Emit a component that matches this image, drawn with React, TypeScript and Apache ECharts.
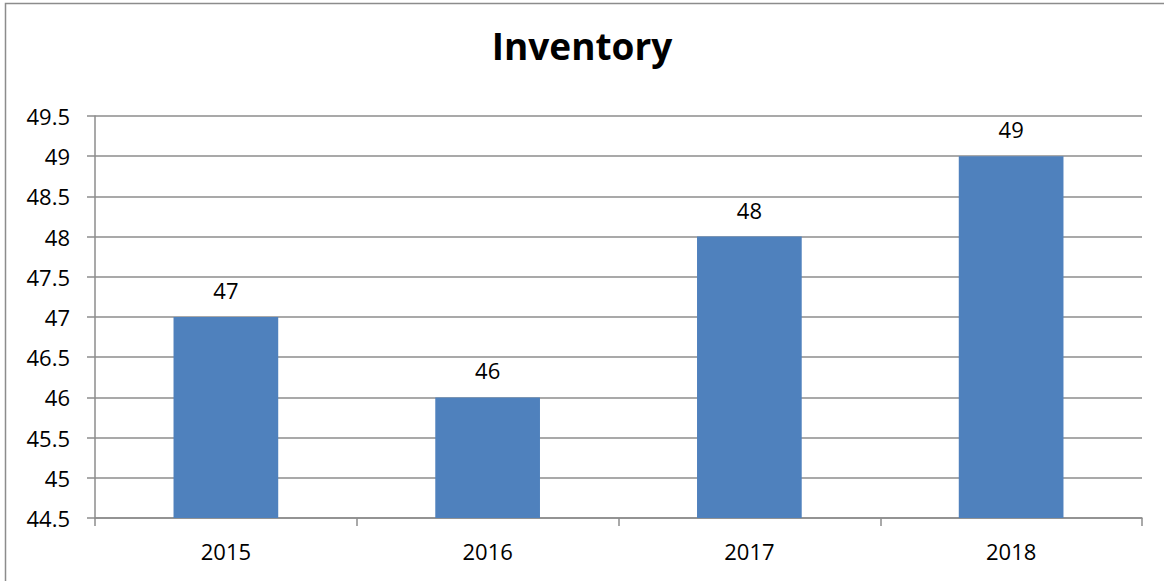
import React, { useEffect, useRef } from "react";
import * as echarts from "echarts";

const categories = ["2015", "2016", "2017", "2018"];
const values = [47, 46, 48, 49];
const yMin = 44.5;
const yMax = 49.5;
const yStep = 0.5;

export default function App() {
  const ref = useRef<HTMLDivElement>(null);
  useEffect(() => {
    const chart = echarts.init(ref.current!, null, { renderer: "svg" });
    const font = "'Open Sans', 'Liberation Sans', sans-serif";
    chart.setOption({
      animation: false,
      backgroundColor: "#ffffff",
      title: {
        text: "Inventory",
        left: "center",
        top: 22,
        textStyle: { fontFamily: font, fontSize: 37, fontWeight: "bold", color: "#000" },
      },
      graphic: [
        {
          type: "rect",
          shape: { x: 5.5, y: 3.5, width: 1200, height: 640 },
          style: { fill: "none", stroke: "#8c8c8c", lineWidth: 1.5 },
          silent: true,
        },
      ],
      grid: { left: 95, right: 22, top: 116, bottom: 63 },
      xAxis: {
        type: "category",
        data: categories,
        axisLine: { lineStyle: { color: "#8c8c8c", width: 1.5 } },
        axisTick: { show: true, length: 8, lineStyle: { color: "#8c8c8c", width: 1.5 } },
        axisLabel: { fontFamily: font, fontSize: 22, color: "#000", margin: 22 },
      },
      yAxis: {
        type: "value",
        min: yMin,
        max: yMax,
        interval: yStep,
        axisLine: { show: true, lineStyle: { color: "#8c8c8c", width: 1.5 } },
        axisTick: { show: true, length: 8, lineStyle: { color: "#8c8c8c", width: 1.5 } },
        axisLabel: { fontFamily: font, fontSize: 22, color: "#000", margin: 25 },
        splitLine: { lineStyle: { color: "#8c8c8c", width: 1.5 } },
      },
      series: [
        {
          type: "bar",
          data: values,
          barWidth: "40%",
          itemStyle: { color: "#4f81bd" },
          label: {
            show: true,
            position: "top",
            distance: 16,
            fontFamily: font,
            fontSize: 22,
            color: "#000",
          },
        },
      ],
    });
    return () => chart.dispose();
  }, []);
  return (
    <div
      ref={ref}
      style={{ position: "absolute", left: 0, top: 0, width: 1164, height: 581 }}
    />
  );
}
